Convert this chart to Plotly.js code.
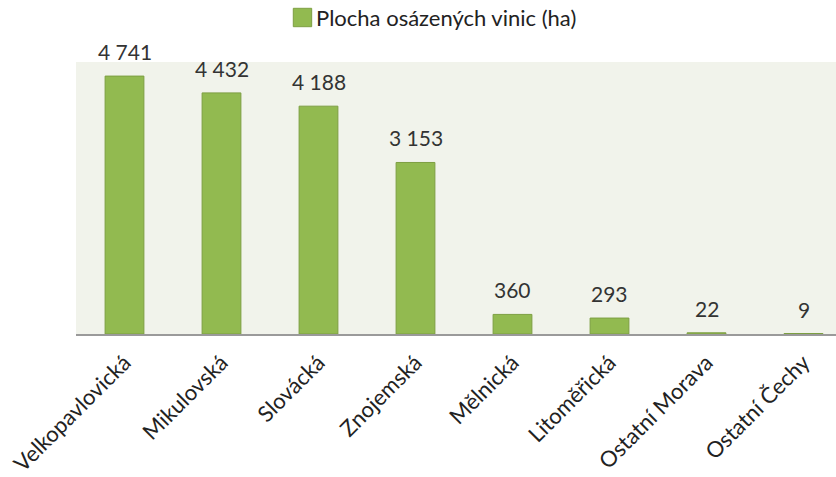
<!DOCTYPE html>
<html>
<head>
<meta charset="utf-8">
<script src="https://cdn.plot.ly/plotly-3.0.1.min.js"></script>
<style>html,body{margin:0;padding:0;background:#fff;overflow:hidden;}</style>
</head>
<body>
<div id="chart" style="width:836px;height:477px;"></div>
<script>
const categories = ["Velkopavlovická","Mikulovská","Slovácká","Znojemská","Mělnická","Litoměřická","Ostatní Morava","Ostatní Čechy"];
const values = [4741, 4432, 4188, 3153, 360, 293, 22, 9];
const seriesName = "Plocha osázených vinic (ha)";

function fmt(v){ return String(v).replace(/\B(?=(\d{3})+(?!\d))/g, " "); }

const FONT = "Lato, 'Open Sans', sans-serif";
const BAR = "#92ba50";
const BAR_LINE = "#7d9f42";

const trace = {
  type: "bar",
  x: categories,
  y: values,
  name: seriesName,
  width: 0.4,
  marker: {color: BAR, line: {color: BAR_LINE, width: 1}},
  hoverinfo: "none",
  showlegend: false
};

const annotations = categories.map((c, i) => ({
  x: c, y: values[i], xref: "x", yref: "y",
  text: fmt(values[i]), showarrow: false,
  yanchor: "bottom", yshift: 10,
  font: {family: FONT, size: 21, color: "#333333"}
}));

// legend entry drawn as a swatch + text
annotations.push({
  xref: "paper", yref: "paper", x: 0.3135, y: 1.163,
  xanchor: "left", yanchor: "middle", showarrow: false,
  text: seriesName,
  font: {family: FONT, size: 22, color: "#222222"}
});

const layout = {
  width: 836, height: 477,
  margin: {l: 76, r: 0, t: 62, b: 143},
  paper_bgcolor: "#ffffff",
  plot_bgcolor: "#f1f3eb",
  showlegend: false,
  xaxis: {
    range: [-0.5, 7.335],
    tickangle: -45,
    tickfont: {family: FONT, size: 22, color: "#222222"},
    showline: true, linecolor: "#9a9a9a", linewidth: 2,
    ticks: "", showgrid: false, zeroline: false,
    ticklabelstandoff: 5
  },
  yaxis: {
    range: [0, 5000],
    visible: false, showgrid: false, zeroline: false
  },
  shapes: [{
    type: "rect", xref: "paper", yref: "paper",
    x0: 0.2859, x1: 0.3101, y0: 1.1298, y1: 1.1974,
    fillcolor: BAR, line: {color: BAR_LINE, width: 1}
  }],
  annotations: annotations,
  font: {family: FONT}
};

Plotly.newPlot("chart", [trace], layout, {displayModeBar: false, staticPlot: true});
</script>
</body>
</html>
